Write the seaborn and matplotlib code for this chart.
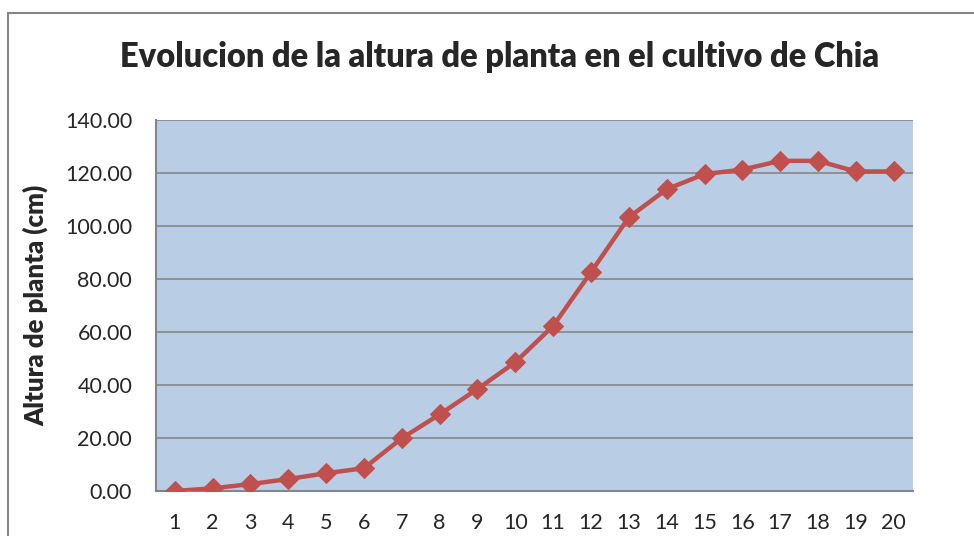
import matplotlib
matplotlib.use("Agg")
import matplotlib.pyplot as plt
import seaborn as sns
import pandas as pd
from matplotlib.patches import Rectangle

# datos
semanas = list(range(1, 21))
altura = [0.0, 1.0, 2.6, 4.5, 6.7, 8.6, 19.9, 28.9, 38.5, 48.6,
          62.3, 82.6, 103.3, 113.9, 119.6, 121.3, 124.6, 124.6, 120.6, 120.6]
yticks = [0, 20, 40, 60, 80, 100, 120, 140]

titulo = "Evolucion de la altura de planta en el cultivo de Chia"
ylabel = "Altura de planta (cm)"

sns.set_style("white")
plt.rcParams['font.family'] = ['Lato', 'DejaVu Sans']

df = pd.DataFrame({'Semana': semanas, 'Altura': altura})

fig = plt.figure(figsize=(9.74, 5.36), dpi=100)
ax = fig.add_axes([0.160, 0.084, 0.777, 0.692])
ax.set_facecolor('#B9CDE5')

sns.lineplot(data=df, x='Semana', y='Altura', ax=ax, color='#C0504D',
             linewidth=3.2, marker='D', markersize=10, markeredgecolor='#C0504D',
             zorder=3)

ax.set_xlim(0.5, 20.5)
ax.set_ylim(0, 140)
ax.set_xticks(semanas)
ax.set_xticklabels([str(s) for s in semanas], fontsize=15.5)
ax.set_yticks(yticks)
ax.set_yticklabels(["%.2f" % v for v in yticks], fontsize=15.5)
ax.tick_params(axis='y', length=0, pad=17)
ax.tick_params(axis='x', length=0, pad=16)
ax.grid(axis='y', color='#868686', linewidth=1.2)
ax.set_axisbelow(True)
for s in ['top', 'right']:
    ax.spines[s].set_visible(False)
for s in ['left', 'bottom']:
    ax.spines[s].set_color('#868686')
    ax.spines[s].set_linewidth(1.5)

ax.set_xlabel('')
ax.set_ylabel(ylabel, fontsize=18.5, fontweight='heavy', labelpad=12)

fig.text(0.513, 0.893, titulo, ha='center', va='center', fontsize=23.5, fontweight='heavy')

# borde del area del grafico
fig.patches.append(Rectangle((0.008, -0.05), 1.1, 1.025, transform=fig.transFigure,
                             fill=False, edgecolor='#868686', linewidth=1.5))

fig.savefig('out.png', dpi=100)
